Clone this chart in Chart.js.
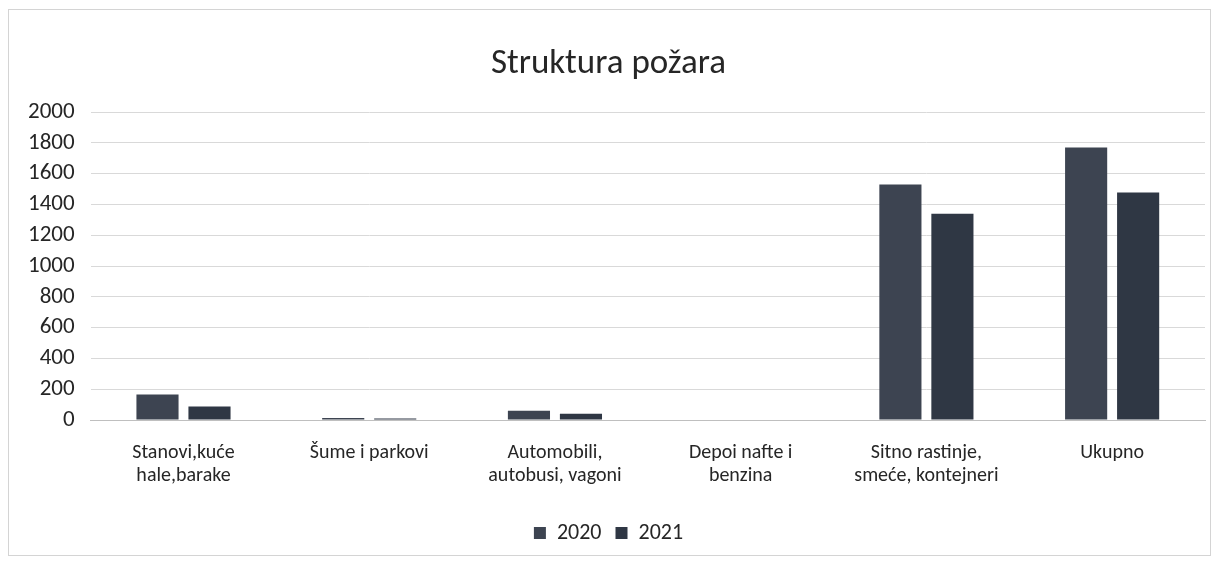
<!DOCTYPE html>
<html>
<head>
<meta charset="utf-8">
<script src="https://cdn.jsdelivr.net/npm/chart.js@4/dist/chart.umd.min.js"></script>
<style>
html,body{margin:0;padding:0;background:#fff;}
#wrap{position:absolute;left:0;top:0;width:1219px;height:565px;}
</style>
</head>
<body>
<div id="wrap"><canvas id="c"></canvas></div>
<script>
const categories = [
  ["Stanovi,kuće", "hale,barake"],
  ["Šume i parkovi"],
  ["Automobili,", "autobusi, vagoni"],
  ["Depoi nafte i", "benzina"],
  ["Sitno rastinje,", "smeće, kontejneri"],
  ["Ukupno"]
];
const values2020 = [165, 13, 60, 0, 1530, 1770];
const values2021 = [88, 10, 40, 0, 1340, 1478];
const seriesNames = ["2020", "2021"];
const yTicks = [0, 200, 400, 600, 800, 1000, 1200, 1400, 1600, 1800, 2000];

const FONT = "Carlito, Calibri, Lato, 'Open Sans', sans-serif";

const frame = {
  id: 'frame',
  beforeDraw(chart) {
    const ctx = chart.ctx;
    ctx.save();
    ctx.fillStyle = '#ffffff';
    ctx.fillRect(0, 0, chart.width, chart.height);
    ctx.strokeStyle = '#d4d4d4';
    ctx.lineWidth = 1;
    ctx.strokeRect(8.5, 9.5, 1202, 546);
    ctx.restore();
  }
};

new Chart(document.getElementById('c'), {
  type: 'bar',
  data: {
    labels: categories,
    datasets: [
      { label: seriesNames[0], data: values2020, backgroundColor: '#3d4451', borderWidth: 0 },
      { label: seriesNames[1], data: values2021, backgroundColor: '#2f3744', borderWidth: 0 }
    ]
  },
  options: {
    responsive: true,
    maintainAspectRatio: false,
    animation: false,
    layout: { padding: { left: 12, right: 14, top: 43, bottom: 11 } },
    datasets: { bar: { categoryPercentage: 0.56, barPercentage: 0.81 } },
    plugins: {
      title: {
        display: true,
        text: 'Struktura požara',
        color: '#262626',
        font: { family: FONT, size: 35, weight: 'normal', lineHeight: 1.2 },
        padding: { top: 0, bottom: 27 }
      },
      legend: {
        position: 'bottom',
        labels: {
          color: '#262626',
          font: { family: FONT, size: 22 },
          boxWidth: 12, boxHeight: 12,
          padding: 14
        }
      },
      tooltip: { enabled: false }
    },
    scales: {
      x: {
        grid: { display: false, drawTicks: false },
        border: { display: true, color: '#bfbfbf' },
        ticks: { color: '#262626', font: { family: FONT, size: 20, lineHeight: 1.15 }, padding: 21, maxRotation: 0, autoSkip: false }
      },
      y: {
        min: 0, max: 2000,
        afterBuildTicks(axis) { axis.ticks = yTicks.map(v => ({ value: v })); },
        grid: { color: '#d9d9d9', drawTicks: false },
        border: { display: false },
        ticks: { color: '#262626', font: { family: FONT, size: 23 }, padding: 16, autoSkip: false, callback: v => String(v) }
      }
    }
  },
  plugins: [frame]
});
</script>
</body>
</html>
